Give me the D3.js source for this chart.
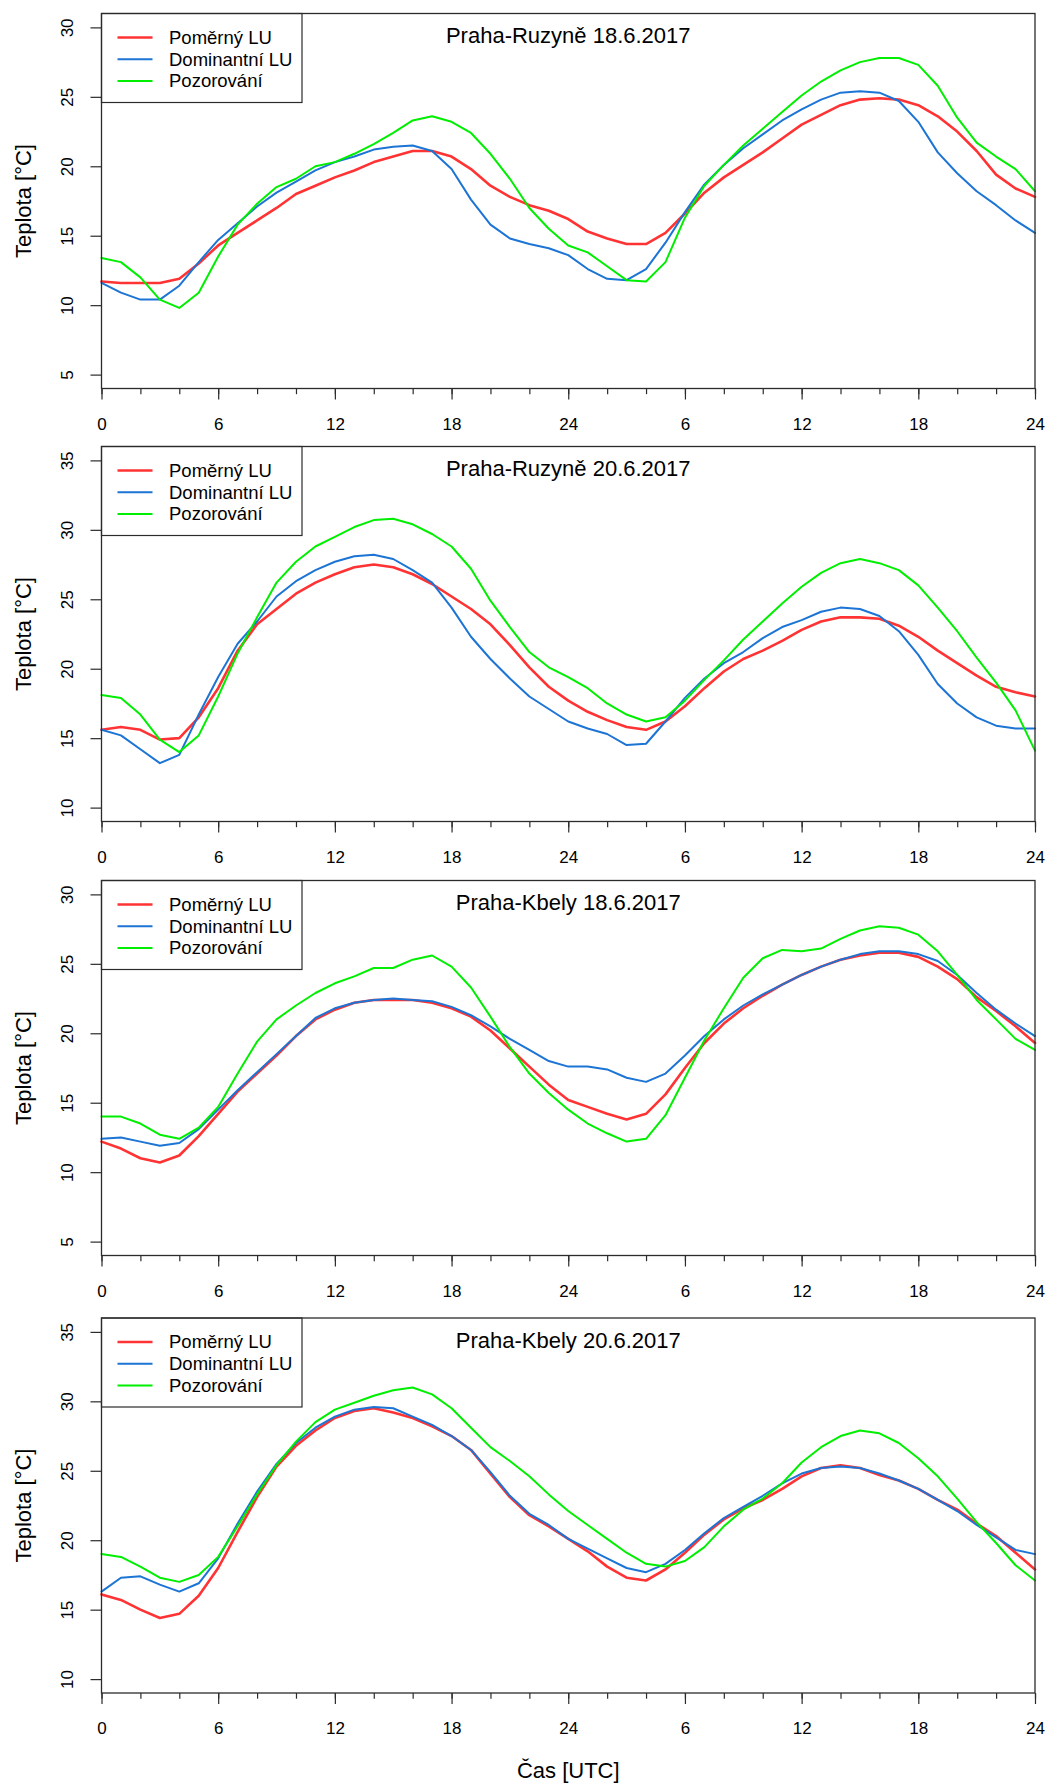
<!DOCTYPE html>
<html>
<head>
<meta charset="utf-8">
<script src="https://cdn.jsdelivr.net/npm/d3@7"></script>
<style>
  body { margin: 0; background: #fff; }
  text { font-family: "Liberation Sans", Arial, Helvetica, sans-serif; fill: #000; }
</style>
</head>
<body>
<div id="chart"></div>
<script>
/* ______________________________Data______________________________ */
// two days, one value per hour (0..48 UTC)
const hours = d3.range(0, 49)
const xMajorHours = [0, 6, 12, 18, 24, 30, 36, 42, 48]
const xTickLabels = ["0", "6", "12", "18", "24", "6", "12", "18", "24"]
const xMinorHours = d3.range(0, 49, 2)

const seriesNames = ["Poměrný LU", "Dominantní LU", "Pozorování"]
const seriesColors = ["#ff3333", "#1c74d4", "#00ee00"]
const seriesWidths = [2.6, 2, 2]

const panelTitles = ["Praha-Ruzyně 18.6.2017", "Praha-Ruzyně 20.6.2017", "Praha-Kbely 18.6.2017", "Praha-Kbely 20.6.2017"]
const yTicksLow = [5, 10, 15, 20, 25, 30]
const yTicksHigh = [10, 15, 20, 25, 30, 35]

// Praha-Ruzyne 18.6.2017
const ruzyne18Pomerny = [11.7, 11.6, 11.6, 11.6, 11.9, 13.0, 14.3, 15.2, 16.1, 17.0, 18.0, 18.6, 19.2, 19.7, 20.3, 20.7, 21.1, 21.1, 20.7, 19.8, 18.6, 17.8, 17.2, 16.8,
  16.2, 15.3, 14.8, 14.4, 14.4, 15.2, 16.6, 18.1, 19.2, 20.1, 21.0, 22.0, 23.0, 23.7, 24.4, 24.8, 24.9, 24.8, 24.4, 23.6, 22.5, 21.1, 19.4, 18.4, 17.8]
const ruzyne18Dominantni = [11.6, 10.9, 10.4, 10.4, 11.4, 13.1, 14.7, 15.9, 17.1, 18.1, 18.9, 19.7, 20.3, 20.7, 21.2, 21.4, 21.5, 21.1, 19.8, 17.6, 15.8, 14.8, 14.4, 14.1,
  13.6, 12.6, 11.9, 11.8, 12.6, 14.5, 16.7, 18.7, 20.1, 21.3, 22.3, 23.3, 24.1, 24.8, 25.3, 25.4, 25.3, 24.7, 23.2, 21.0, 19.5, 18.2, 17.2, 16.1, 15.2]
const ruzyne18Pozorovani = [13.4, 13.1, 12.0, 10.4, 9.8, 10.9, 13.5, 15.8, 17.3, 18.5, 19.1, 20.0, 20.3, 20.9, 21.6, 22.4, 23.3, 23.6, 23.2, 22.4, 20.9, 19.1, 17.0, 15.5,
  14.3, 13.8, 12.8, 11.8, 11.7, 13.1, 16.3, 18.6, 20.1, 21.5, 22.7, 23.9, 25.1, 26.1, 26.9, 27.5, 27.8, 27.8, 27.3, 25.8, 23.5, 21.7, 20.7, 19.8, 18.2]

// Praha-Ruzyne 20.6.2017
const ruzyne20Pomerny = [15.6, 15.8, 15.6, 14.9, 15.0, 16.5, 18.6, 21.3, 23.2, 24.3, 25.4, 26.2, 26.8, 27.3, 27.5, 27.3, 26.8, 26.1, 25.2, 24.3, 23.2, 21.7, 20.1, 18.7,
  17.7, 16.9, 16.3, 15.8, 15.6, 16.2, 17.3, 18.6, 19.8, 20.7, 21.3, 22.0, 22.8, 23.4, 23.7, 23.7, 23.6, 23.1, 22.3, 21.3, 20.4, 19.5, 18.7, 18.3, 18.0]
const ruzyne20Dominantni = [15.6, 15.2, 14.2, 13.2, 13.8, 16.7, 19.4, 21.8, 23.4, 25.2, 26.3, 27.1, 27.7, 28.1, 28.2, 27.9, 27.1, 26.2, 24.4, 22.3, 20.7, 19.3, 18.0, 17.1,
  16.2, 15.7, 15.3, 14.5, 14.6, 16.2, 17.9, 19.3, 20.4, 21.2, 22.2, 23.0, 23.5, 24.1, 24.4, 24.3, 23.8, 22.7, 21.0, 18.9, 17.5, 16.5, 15.9, 15.7, 15.7]
const ruzyne20Pozorovani = [18.1, 17.9, 16.7, 14.9, 14.0, 15.2, 18.0, 21.1, 23.7, 26.2, 27.7, 28.8, 29.5, 30.2, 30.7, 30.8, 30.4, 29.7, 28.8, 27.2, 24.9, 23.0, 21.2, 20.1,
  19.4, 18.6, 17.5, 16.7, 16.2, 16.5, 17.7, 19.2, 20.6, 22.1, 23.4, 24.7, 25.9, 26.9, 27.6, 27.9, 27.6, 27.1, 26.0, 24.4, 22.7, 20.8, 19.0, 17.0, 14.1]

// Praha-Kbely 18.6.2017
const kbely18Pomerny = [12.2, 11.7, 11.0, 10.7, 11.2, 12.6, 14.2, 15.8, 17.1, 18.4, 19.8, 21.0, 21.7, 22.2, 22.4, 22.4, 22.4, 22.2, 21.8, 21.2, 20.2, 18.9, 17.6, 16.3,
  15.2, 14.7, 14.2, 13.8, 14.2, 15.6, 17.5, 19.3, 20.7, 21.8, 22.7, 23.5, 24.2, 24.8, 25.3, 25.6, 25.8, 25.8, 25.5, 24.8, 23.9, 22.6, 21.6, 20.5, 19.3]
const kbely18Dominantni = [12.4, 12.5, 12.2, 11.9, 12.1, 13.1, 14.5, 15.9, 17.2, 18.5, 19.8, 21.1, 21.8, 22.2, 22.4, 22.5, 22.4, 22.3, 21.9, 21.3, 20.5, 19.6, 18.8, 18.0,
  17.6, 17.6, 17.4, 16.8, 16.5, 17.1, 18.4, 19.8, 21.0, 22.0, 22.8, 23.5, 24.2, 24.8, 25.3, 25.7, 25.9, 25.9, 25.7, 25.2, 24.2, 22.9, 21.7, 20.7, 19.8]
const kbely18Pozorovani = [14.0, 14.0, 13.5, 12.7, 12.4, 13.2, 14.7, 17.1, 19.4, 21.0, 22.0, 22.9, 23.6, 24.1, 24.7, 24.7, 25.3, 25.6, 24.8, 23.3, 21.2, 19.0, 17.1, 15.7,
  14.5, 13.5, 12.8, 12.2, 12.4, 14.1, 16.8, 19.5, 21.8, 24.0, 25.4, 26.0, 25.9, 26.1, 26.8, 27.4, 27.7, 27.6, 27.1, 25.9, 24.2, 22.4, 21.0, 19.6, 18.8]

// Praha-Kbely 20.6.2017
const kbely20Pomerny = [16.1, 15.7, 15.0, 14.4, 14.7, 16.0, 18.0, 20.6, 23.1, 25.3, 26.8, 27.9, 28.8, 29.3, 29.5, 29.2, 28.8, 28.2, 27.5, 26.5, 24.8, 23.1, 21.8, 21.0,
  20.1, 19.2, 18.1, 17.3, 17.1, 17.9, 19.1, 20.4, 21.5, 22.3, 22.9, 23.7, 24.6, 25.2, 25.4, 25.2, 24.7, 24.3, 23.7, 22.9, 22.2, 21.2, 20.3, 19.1, 17.9]
const kbely20Dominantni = [16.3, 17.3, 17.4, 16.8, 16.3, 16.9, 18.7, 21.2, 23.5, 25.5, 27.0, 28.1, 28.9, 29.4, 29.6, 29.5, 28.9, 28.3, 27.5, 26.5, 24.9, 23.2, 21.9, 21.1,
  20.1, 19.4, 18.7, 18.0, 17.7, 18.3, 19.3, 20.5, 21.6, 22.4, 23.2, 24.1, 24.8, 25.2, 25.3, 25.2, 24.8, 24.3, 23.7, 22.9, 22.1, 21.1, 20.2, 19.3, 19.0]
const kbely20Pozorovani = [19.0, 18.8, 18.1, 17.3, 17.0, 17.5, 18.8, 21.0, 23.3, 25.4, 27.1, 28.5, 29.4, 29.9, 30.4, 30.8, 31.0, 30.5, 29.5, 28.1, 26.7, 25.7, 24.6, 23.3,
  22.1, 21.1, 20.1, 19.1, 18.3, 18.1, 18.5, 19.5, 21.0, 22.2, 23.0, 24.1, 25.6, 26.7, 27.5, 27.9, 27.7, 27.0, 25.9, 24.6, 23.0, 21.3, 19.8, 18.2, 17.1]

const panelSeries = [
  [ruzyne18Pomerny, ruzyne18Dominantni, ruzyne18Pozorovani],
  [ruzyne20Pomerny, ruzyne20Dominantni, ruzyne20Pozorovani],
  [kbely18Pomerny, kbely18Dominantni, kbely18Pozorovani],
  [kbely20Pomerny, kbely20Dominantni, kbely20Pozorovani]
]
const panelYTicks = [yTicksLow, yTicksHigh, yTicksLow, yTicksHigh]

/* ______________________________Set-Up______________________________ */
const width = 1049, height = 1785
const plotLeft = 101.5, plotRight = 1035
const panelTops = [13.5, 446.5, 880.5, 1318] // R style stacked panels
const panelHeight = 375
const boxColor = "#2b2b2b"

const svg = d3.select("#chart")
  .append("svg")
  .attr("width", width)
  .attr("height", height)

const x = d3.scaleLinear()
  .domain([0, 48])
  .range([plotLeft, plotRight])

function drawPanel(p) {
  const top = panelTops[p]
  const bottom = top + panelHeight
  const ticks = panelYTicks[p]

  // R pads the y range by 4 % on each side -> one degree here
  const y = d3.scaleLinear()
    .domain([ticks[0] - 1, ticks[ticks.length - 1] + 1])
    .range([bottom, top])

  const g = svg.append("g").attr("class", "panel")

  //minor ticks every 2 hours
  g.append("g")
    .attr("transform", "translate(0," + bottom + ")")
    .call(d3.axisBottom(x).tickValues(xMinorHours).tickSize(5.7).tickFormat(""))
    .call(a => a.select(".domain").remove())
    .selectAll("line").attr("stroke", boxColor).attr("stroke-width", 1.2)

  //major ticks with the day labels
  const xAxis = g.append("g")
    .attr("transform", "translate(0," + bottom + ")")
    .call(d3.axisBottom(x).tickValues(xMajorHours).tickSize(11).tickPadding(18)
      .tickFormat((d, i) => xTickLabels[i]))
  xAxis.select(".domain").remove()
  xAxis.selectAll("line").attr("stroke", boxColor).attr("stroke-width", 1.2)
  xAxis.selectAll("text").style("font-size", "17px").attr("fill", "#000")

  //y axis, labels turned like in R (las = 0)
  const yAxis = g.append("g")
    .attr("transform", "translate(" + plotLeft + ",0)")
    .call(d3.axisLeft(y).tickValues(ticks).tickSize(11))
  yAxis.select(".domain").remove()
  yAxis.selectAll("line").attr("stroke", boxColor).attr("stroke-width", 1.2)
  yAxis.selectAll("text")
    .attr("x", null)
    .attr("dy", "0.35em")
    .attr("text-anchor", "middle")
    .attr("transform", "translate(-34,0) rotate(-90)")
    .style("font-size", "17px")
    .attr("fill", "#000")

  g.append("text")
    .attr("transform", "translate(23," + (top + panelHeight / 2) + ") rotate(-90)")
    .attr("text-anchor", "middle")
    .attr("dy", "0.35em")
    .style("font-size", "22px")
    .text("Teplota [°C]")

  //the three lines
  const line = d3.line()
    .x((d, i) => x(hours[i]))
    .y(d => y(d))

  panelSeries[p].forEach(function (values, s) {
    g.append("path")
      .datum(values)
      .attr("fill", "none")
      .attr("stroke", seriesColors[s])
      .attr("stroke-width", seriesWidths[s])
      .attr("stroke-linejoin", "round")
      .attr("stroke-linecap", "round")
      .attr("d", line)
  })

  //legend top left
  const legend = g.append("g").attr("transform", "translate(" + plotLeft + "," + top + ")")
  legend.append("rect")
    .attr("width", 200.5)
    .attr("height", 89)
    .attr("fill", "#fff")
    .attr("stroke", boxColor)
    .attr("stroke-width", 1.2)
  seriesNames.forEach(function (name, s) {
    const ly = 24 + s * 21.7
    legend.append("line")
      .attr("x1", 16).attr("x2", 51)
      .attr("y1", ly).attr("y2", ly)
      .attr("stroke", seriesColors[s])
      .attr("stroke-width", seriesWidths[s])
    legend.append("text")
      .attr("x", 67.5)
      .attr("y", ly)
      .attr("dy", "0.35em")
      .style("font-size", "18.5px")
      .text(name)
  })

  g.append("text")
    .attr("x", (plotLeft + plotRight) / 2)
    .attr("y", top + 22)
    .attr("dy", "0.35em")
    .attr("text-anchor", "middle")
    .style("font-size", "22px")
    .text(panelTitles[p])

  //box around the plot
  g.append("rect")
    .attr("x", plotLeft)
    .attr("y", top)
    .attr("width", plotRight - plotLeft)
    .attr("height", panelHeight)
    .attr("fill", "none")
    .attr("stroke", boxColor)
    .attr("stroke-width", 1.3)
}

for (let p = 0; p < panelTitles.length; p++) {
  drawPanel(p)
}

svg.append("text")
  .attr("x", (plotLeft + plotRight) / 2)
  .attr("y", 1770)
  .attr("dy", "0.35em")
  .attr("text-anchor", "middle")
  .style("font-size", "22px")
  .text("Čas [UTC]")
</script>
</body>
</html>
